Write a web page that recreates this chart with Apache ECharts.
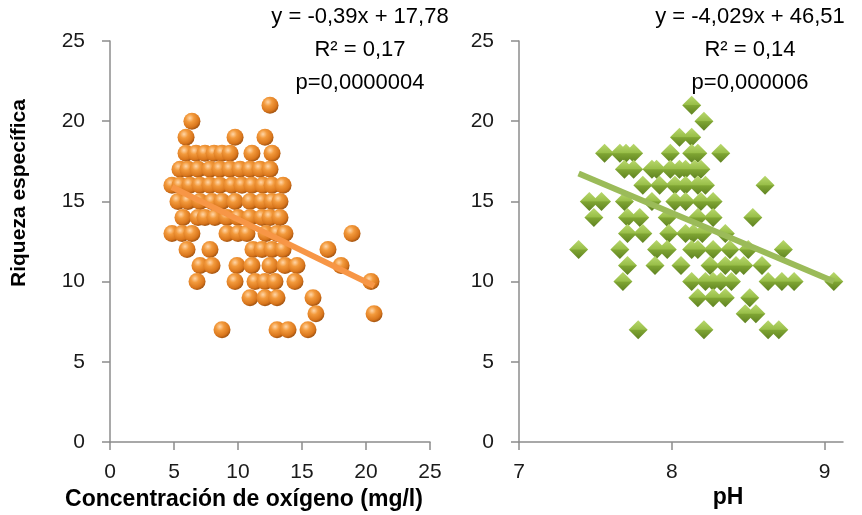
<!DOCTYPE html>
<html>
<head>
<meta charset="utf-8">
<script src="https://cdn.jsdelivr.net/npm/echarts@6/dist/echarts.min.js"></script>
<style>
  html, body { margin: 0; padding: 0; background: #fff; }
  #chart { width: 862px; height: 515px; }
</style>
</head>
<body>
<div id="chart"></div>
<script>
// Species richness vs dissolved oxygen (mg/l): [oxygen, richness]
const oxygenPoints = [
  [12.5, 21],
  [6.4, 20],
  [5.94, 19], [9.77, 19], [12.11, 19],
  [5.94, 18], [6.72, 18], [7.42, 18], [8.13, 18], [8.75, 18], [9.38, 18], [11.09, 18], [12.66, 18],
  [5.47, 17], [6.09, 17], [6.88, 17], [7.81, 17], [8.59, 17], [9.38, 17], [10.16, 17], [10.94, 17], [11.72, 17], [12.5, 17],
  [4.84, 16], [5.47, 16], [6.25, 16], [7.03, 16], [7.81, 16], [8.59, 16], [9.53, 16], [10.31, 16], [11.09, 16], [11.95, 16], [12.66, 16], [13.52, 16],
  [5.31, 15], [6.09, 15], [7.03, 15], [7.97, 15], [8.75, 15], [9.77, 15], [10.94, 15], [11.88, 15], [12.66, 15], [13.28, 15],
  [5.7, 14], [6.88, 14], [7.42, 14], [8.2, 14], [9.14, 14], [10.0, 14], [10.94, 14], [11.88, 14], [12.5, 14], [13.28, 14],
  [4.84, 13], [5.63, 13], [6.4, 13], [9.14, 13], [10.0, 13], [10.7, 13], [12.19, 13], [13.05, 13], [13.67, 13], [18.91, 13],
  [6.02, 12], [7.81, 12], [11.17, 12], [11.88, 12], [12.66, 12], [13.52, 12], [17.03, 12],
  [7.03, 11], [7.97, 11], [9.92, 11], [11.09, 11], [12.5, 11], [13.67, 11], [14.61, 11], [18.05, 11],
  [6.8, 10], [9.77, 10], [11.33, 10], [12.11, 10], [12.89, 10], [14.45, 10], [20.39, 10],
  [10.94, 9], [12.11, 9], [13.05, 9], [15.86, 9],
  [16.09, 8], [20.63, 8],
  [8.75, 7], [13.05, 7], [13.91, 7], [15.47, 7]
];

// Species richness vs pH: [pH, richness]
const phPoints = [
  [8.13, 21],
  [8.21, 20],
  [8.05, 19], [8.13, 19],
  [7.56, 18], [7.66, 18], [7.7, 18], [7.75, 18], [7.99, 18], [8.13, 18], [8.17, 18], [8.32, 18],
  [7.69, 17], [7.75, 17], [7.87, 17], [7.9, 17], [7.99, 17], [8.05, 17], [8.09, 17], [8.15, 17], [8.19, 17],
  [7.81, 16], [7.92, 16], [8.02, 16], [8.09, 16], [8.17, 16], [8.22, 16], [8.61, 16],
  [7.46, 15], [7.54, 15], [7.69, 15], [7.87, 15], [8.02, 15], [8.09, 15], [8.19, 15], [8.27, 15],
  [7.49, 14], [7.71, 14], [7.79, 14], [7.97, 14], [8.17, 14], [8.27, 14], [8.53, 14],
  [7.71, 13], [7.81, 13], [7.98, 13], [8.09, 13], [8.14, 13], [8.2, 13], [8.35, 13],
  [7.39, 12], [7.66, 12], [7.9, 12], [7.97, 12], [8.13, 12], [8.17, 12], [8.27, 12], [8.38, 12], [8.5, 12], [8.73, 12],
  [7.71, 11], [7.89, 11], [8.06, 11], [8.25, 11], [8.35, 11], [8.42, 11], [8.47, 11], [8.59, 11],
  [7.68, 10], [8.13, 10], [8.22, 10], [8.27, 10], [8.32, 10], [8.39, 10], [8.63, 10], [8.72, 10], [8.8, 10], [9.06, 10],
  [8.17, 9], [8.27, 9], [8.35, 9], [8.51, 9],
  [8.48, 8], [8.55, 8],
  [7.78, 7], [8.21, 7], [8.63, 7], [8.7, 7]
];

// Linear fits as reported: richness = slope * x + intercept
const oxygenFit = { slope: -0.39, intercept: 17.78, from: 4.84, to: 20.63 };
const phFit = { slope: -4.029, intercept: 46.51, from: 7.39, to: 9.06 };

const oxygenFitText = ['y = -0,39x + 17,78', 'R² = 0,17', 'p=0,0000004'];
const phFitText = ['y = -4,029x + 46,51', 'R² = 0,14', 'p=0,000006'];

const yTicks = [0, 5, 10, 15, 20, 25];
const oxygenTicks = [0, 5, 10, 15, 20, 25];
const phTicks = [7, 8, 9];

const FONT = '"Liberation Sans", Arial, sans-serif';
const AXIS_COLOR = '#8c8c8c';
const TEXT_COLOR = '#1a1a1a';

function fitLine(fit) {
  return [
    [fit.from, fit.slope * fit.from + fit.intercept],
    [fit.to, fit.slope * fit.to + fit.intercept]
  ];
}

const orangeBall = {
  type: 'radial', x: 0.38, y: 0.32, r: 0.68,
  colorStops: [
    { offset: 0, color: '#ffd6a8' },
    { offset: 0.35, color: '#f39a3c' },
    { offset: 0.8, color: '#d9761c' },
    { offset: 1, color: '#a65612' }
  ]
};
const greenGem = {
  type: 'linear', x: 0, y: 0, x2: 0, y2: 1,
  colorStops: [
    { offset: 0, color: '#b9d86e' },
    { offset: 0.48, color: '#98be48' },
    { offset: 0.52, color: '#7fa533' },
    { offset: 1, color: '#5f8221' }
  ]
};

function yAxisCfg(gridIndex) {
  return {
    type: 'value', gridIndex, min: 0, max: 25, interval: 5,
    axisLine: { show: true, lineStyle: { color: AXIS_COLOR, width: 1.5 } },
    axisTick: { show: true, length: 8, lineStyle: { color: AXIS_COLOR, width: 1.5 } },
    splitLine: { show: false },
    axisLabel: { color: TEXT_COLOR, fontFamily: FONT, fontSize: 21, margin: 25,
      customValues: yTicks }
  };
}

const chart = echarts.init(document.getElementById('chart'), null, { renderer: 'canvas' });

chart.setOption({
  animation: false,
  backgroundColor: '#ffffff',
  grid: [
    { left: 110, right: 432, top: 41, bottom: 73 },
    { left: 519, right: 19, top: 41, bottom: 73 }
  ],
  xAxis: [
    {
      type: 'value', gridIndex: 0, min: 0, max: 25, interval: 5,
      axisLine: { show: true, onZero: false, lineStyle: { color: AXIS_COLOR, width: 1.5 } },
      axisTick: { show: true, length: 8, lineStyle: { color: AXIS_COLOR, width: 1.5 } },
      splitLine: { show: false },
      axisLabel: { color: TEXT_COLOR, fontFamily: FONT, fontSize: 21, margin: 20,
        customValues: oxygenTicks }
    },
    {
      type: 'value', gridIndex: 1, min: 7, max: 9.12,
      axisLine: { show: true, onZero: false, lineStyle: { color: AXIS_COLOR, width: 1.5 } },
      axisTick: { show: true, length: 8, lineStyle: { color: AXIS_COLOR, width: 1.5 },
        customValues: phTicks },
      splitLine: { show: false },
      axisLabel: { color: TEXT_COLOR, fontFamily: FONT, fontSize: 21, margin: 20,
        customValues: phTicks }
    }
  ],
  yAxis: [yAxisCfg(0), yAxisCfg(1)],
  series: [
    {
      type: 'scatter', xAxisIndex: 0, yAxisIndex: 0,
      data: oxygenPoints, symbol: 'circle', symbolSize: 17,
      itemStyle: { color: orangeBall, opacity: 1 }, z: 2
    },
    {
      type: 'line', xAxisIndex: 0, yAxisIndex: 0,
      data: fitLine(oxygenFit), symbol: 'none',
      lineStyle: { color: '#f79646', width: 6 }, z: 3
    },
    {
      type: 'scatter', xAxisIndex: 1, yAxisIndex: 1,
      data: phPoints, symbol: 'diamond', symbolSize: [19, 19],
      itemStyle: { color: greenGem, opacity: 1 }, z: 2
    },
    {
      type: 'line', xAxisIndex: 1, yAxisIndex: 1,
      data: fitLine(phFit), symbol: 'none',
      lineStyle: { color: '#9bbb59', width: 6 }, z: 3
    }
  ],
  graphic: [
    {
      type: 'text', x: 19, y: 193, rotation: Math.PI / 2,
      style: { text: 'Riqueza específica', font: 'bold 21px ' + FONT, fill: '#000',
        textAlign: 'center', textVerticalAlign: 'middle' }
    },
    {
      type: 'text', x: 244, y: 500,
      style: { text: 'Concentración de oxígeno (mg/l)', font: 'bold 23px ' + FONT, fill: '#000',
        textAlign: 'center', textVerticalAlign: 'middle' }
    },
    {
      type: 'text', x: 728, y: 498,
      style: { text: 'pH', font: 'bold 23px ' + FONT, fill: '#000',
        textAlign: 'center', textVerticalAlign: 'middle' }
    },
    ...oxygenFitText.map((t, i) => ({
      type: 'text', x: 360, y: 17 + i * 33,
      style: { text: t, font: '22px ' + FONT, fill: '#000',
        textAlign: 'center', textVerticalAlign: 'middle' }
    })),
    ...phFitText.map((t, i) => ({
      type: 'text', x: 750, y: 17 + i * 33,
      style: { text: t, font: '22px ' + FONT, fill: '#000',
        textAlign: 'center', textVerticalAlign: 'middle' }
    }))
  ]
});
</script>
</body>
</html>
